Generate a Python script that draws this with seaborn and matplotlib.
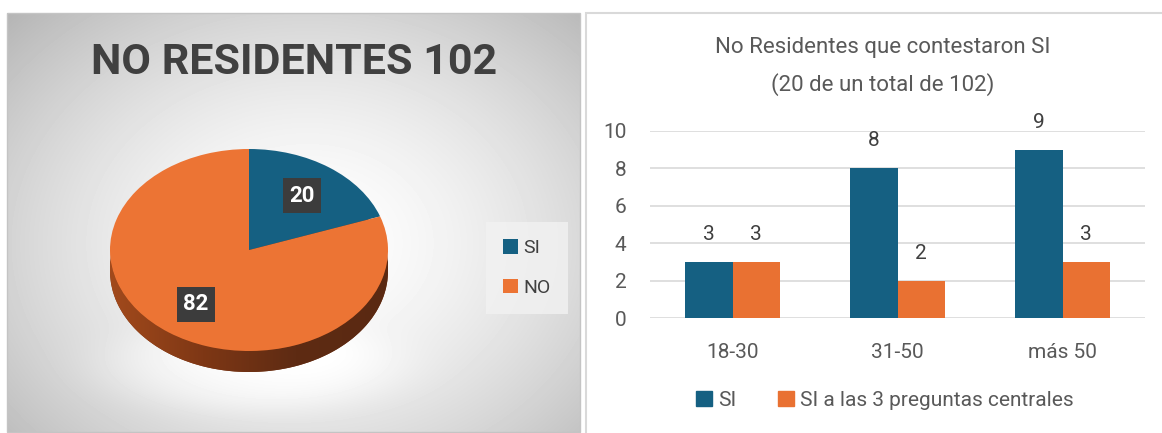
import numpy as np
import pandas as pd
import seaborn as sns
import matplotlib.pyplot as plt
from matplotlib.patches import Polygon, Rectangle
from matplotlib.colors import LinearSegmentedColormap

# datos
pie_labels = ["SI", "NO"]
pie_values = [20, 82]
grupos = ["18-30", "31-50", "más 50"]
series = ["SI", "SI a las 3 preguntas centrales"]
si_values = [3, 8, 9]
si3_values = [3, 2, 3]

azul = "#156082"
naranja = "#E97132"
gris_txt = "#595959"

sns.set_theme(style="white")
plt.rcParams['font.family'] = ['Roboto', 'DejaVu Sans']

W, H = 1162, 433
fig = plt.figure(figsize=(W / 100, H / 100), dpi=100)


def caja(x0, y0, x1, y1):
    # pixeles -> fraccion de figura
    return [x0 / W, 1 - y1 / H, (x1 - x0) / W, (y1 - y0) / H]


# ---- panel izquierdo: fondo degradado ----
bg = fig.add_axes(caja(7, 13, 580, 432))
yy, xx = np.mgrid[0:419, 0:573]
r = np.hypot((xx - 300) / 330.0, (yy - 230) / 260.0)
shade = np.clip(1 - 0.2 * r ** 1.6, 0, 1)
# brillo blanco bajo el pastel
glow = np.exp(-(((xx - 243) / 150.0) ** 2 + ((yy - 355) / 45.0) ** 2) ** 2)
shade = np.clip(shade + 0.06 * glow, 0, 1)
bg.imshow(shade, cmap='gray', vmin=0, vmax=1, aspect='auto')
bg.set_axis_off()
fig.add_artist(Rectangle((7 / W, 1 - 432 / H), 573 / W, 419 / H, transform=fig.transFigure,
                         fill=False, ec='#C4C4C4', lw=1))

fig.text(294 / W, 1 - 62 / H, "NO RESIDENTES 102", ha='center', va='center',
         fontsize=31, fontweight='bold', color='#404040')

# ---- pastel 3D ----
ax = fig.add_axes(caja(110, 149, 388, 378))
total = sum(pie_values)
depth = 21 / 101

# base (lado) del pastel
ax.pie(pie_values, colors=["#0B3448", "#7A3614"], startangle=90, counterclock=False,
       center=(0, -depth), radius=1, wedgeprops={'lw': 0})

# degradado del costado
t = np.linspace(np.pi, 2 * np.pi, 200)
top = np.column_stack([np.cos(t), np.sin(t)])
bot = np.column_stack([np.cos(t[::-1]), np.sin(t[::-1]) - depth])
band = Polygon(np.vstack([top, bot]), closed=True, transform=ax.transData, fc='none', ec='none')
ax.add_patch(band)
grad = np.linspace(0, 1, 256).reshape(1, -1)
cm_lado = LinearSegmentedColormap.from_list("lado", ["#A24A1C", "#7E3715", "#5E2B13", "#5A2912"])
im = ax.imshow(grad, cmap=cm_lado, extent=(-1, 1, -1 - depth, 0.05), aspect='auto', zorder=1.5)
im.set_clip_path(band)

wedges, texts, autotexts = ax.pie(
    pie_values, colors=[azul, "#EC7434"], startangle=90, counterclock=False,
    radius=1, autopct=lambda p: f"{round(p * total / 100)}", pctdistance=0.66,
    wedgeprops={'lw': 0, 'zorder': 2},
    textprops={'color': 'white', 'fontsize': 16, 'fontweight': 'bold', 'zorder': 3})
for at in autotexts:
    at.set_bbox(dict(boxstyle='square,pad=0.3', fc='#3C3C3C', ec='none'))
ax.set_aspect('auto')
ax.set_xlim(-1, 1)
ax.set_ylim(1 - 229 / 101, 1)
ax.set_axis_off()

fig.legend(wedges, pie_labels, loc='center', bbox_to_anchor=(527 / W, 1 - 268 / H),
           frameon=True, facecolor='#F2F2F2', edgecolor='none', fontsize=14,
           handlelength=0.75, handleheight=0.75, handletextpad=0.3,
           labelspacing=1.1, borderpad=0.9, fancybox=False, labelcolor='#404040')

# ---- panel derecho ----
fig.add_artist(Rectangle((586 / W, -0.01), 0.6, 1 - 13 / H + 0.01, transform=fig.transFigure,
                         fill=False, ec='#D9D9D9', lw=1.5))

df = pd.DataFrame({
    'grupo': grupos * 2,
    'serie': [series[0]] * 3 + [series[1]] * 3,
    'valor': si_values + si3_values,
})

ax2 = fig.add_axes(caja(650, 131, 1145, 318))
sns.barplot(data=df, x='grupo', y='valor', hue='serie', palette=[azul, naranja],
            width=0.574, saturation=1, ax=ax2, legend=False, linewidth=0)
for c in ax2.containers:
    ax2.bar_label(c, padding=13, fontsize=15, color='#404040')
ax2.set_ylim(0, 10)
ax2.set_yticks(range(0, 11, 2))
ax2.set_xlim(-0.5, 2.5)
ax2.grid(axis='y', color='#D9D9D9', lw=1.2)
ax2.set_axisbelow(True)
sns.despine(ax=ax2, left=True, bottom=True)
ax2.tick_params(axis='both', colors=gris_txt, labelsize=15, length=0)
ax2.tick_params(axis='x', pad=18)
ax2.tick_params(axis='y', pad=17)
ax2.set_xlabel("")
ax2.set_ylabel("")

fig.text(883 / W, 1 - 48 / H, "No Residentes que contestaron SI", ha='center', va='center',
         fontsize=16, color=gris_txt)
fig.text(883 / W, 1 - 85 / H, "(20 de un total de 102)", ha='center', va='center',
         fontsize=16, color=gris_txt)

handles = [Rectangle((0, 0), 1, 1, color=azul), Rectangle((0, 0), 1, 1, color=naranja)]
fig.legend(handles, series, loc='center', bbox_to_anchor=(885 / W, 1 - 400 / H), ncol=2,
           frameon=False, fontsize=15, handlelength=0.75, handleheight=0.75,
           handletextpad=0.3, columnspacing=2.0, labelcolor=gris_txt)

fig.savefig("out.png", dpi=100)
